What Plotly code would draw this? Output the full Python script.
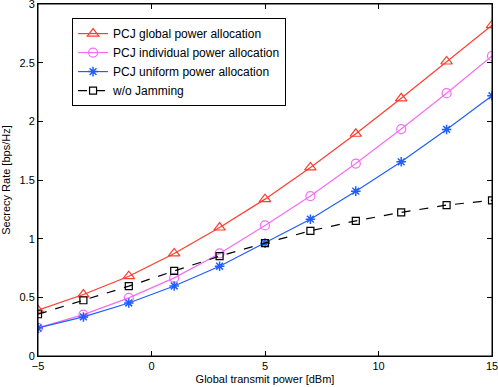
import plotly.graph_objects as go

power_dbm = [-5, -3, -1, 1, 3, 5, 7, 9, 11, 13, 15]

rate_global = [0.39, 0.524, 0.68, 0.874, 1.095, 1.337, 1.607, 1.894, 2.196, 2.51, 2.82]
rate_individual = [0.239, 0.353, 0.495, 0.666, 0.874, 1.113, 1.363, 1.64, 1.934, 2.24, 2.557]
rate_uniform = [0.239, 0.333, 0.452, 0.597, 0.765, 0.962, 1.166, 1.405, 1.655, 1.931, 2.218]
rate_nojam = [0.356, 0.475, 0.595, 0.725, 0.851, 0.962, 1.067, 1.152, 1.224, 1.286, 1.327]

fnt = "Liberation Sans, Arial, sans-serif"

fig = go.Figure()
fig.add_trace(go.Scatter(x=power_dbm, y=rate_global, mode="lines+markers",
                         name="PCJ global power allocation",
                         line=dict(color="#ff3d2e", width=1.2),
                         marker=dict(symbol="triangle-up-open", size=10, color="#ff3d2e", line=dict(width=1.2))))
fig.add_trace(go.Scatter(x=power_dbm, y=rate_individual, mode="lines+markers",
                         name="PCJ individual power allocation",
                         line=dict(color="#f56cf5", width=1.2),
                         marker=dict(symbol="circle-open", size=9, color="#f56cf5", line=dict(width=1.2))))
fig.add_trace(go.Scatter(x=power_dbm, y=rate_uniform, mode="lines+markers",
                         name="PCJ uniform power allocation",
                         line=dict(color="#1f5fff", width=1.2),
                         marker=dict(symbol="asterisk-open", size=8, color="#1f5fff", line=dict(width=1.5, color="#1f5fff"))))
fig.add_trace(go.Scatter(x=power_dbm, y=rate_nojam, mode="lines+markers",
                         name="w/o Jamming",
                         line=dict(color="black", width=1.2, dash="dash"),
                         marker=dict(symbol="square-open", size=7, color="black", line=dict(width=1.2))))

axis_common = dict(showgrid=False, zeroline=False, showline=True, linecolor="black", linewidth=1,
                   mirror="ticks", ticks="inside", ticklen=5, tickcolor="black",
                   ticklabeloverflow="allow", automargin=False,
                   tickfont=dict(family=fnt, size=11, color="black"))

fig.update_layout(
    width=498, height=387,
    margin=dict(l=38, r=6, t=4, b=31),
    paper_bgcolor="white", plot_bgcolor="white",
    font=dict(family=fnt, size=11, color="black"),
    legend=dict(x=0.075, y=0.96, xanchor="left", yanchor="top",
                bordercolor="black", borderwidth=1, bgcolor="white",
                font=dict(family=fnt, size=12), tracegroupgap=0, itemwidth=30),
)
# plot frame
fig.add_shape(type="rect", xref="paper", yref="paper", x0=0, x1=1, y0=0, y1=1,
              line=dict(color="black", width=1), layer="above")
fig.update_xaxes(range=[-5, 15], tickvals=[-5, 0, 5, 10, 15], ticktext=["\u22125", "0", "5", "10", "15"],
                 title=dict(text="Global transmit power [dBm]", font=dict(size=11), standoff=4), **axis_common)
fig.update_yaxes(range=[0, 3], tickvals=[0, 0.5, 1, 1.5, 2, 2.5, 3],
                 ticktext=["0", "0.5", "1", "1.5", "2", "2.5", "3"],
                 title=dict(text="Secrecy Rate [bps/Hz]", font=dict(size=11), standoff=6), **axis_common)

fig.write_html("out.html", config={"displayModeBar": False},
               post_script="document.body.style.margin='0';document.body.style.overflow='hidden';")
